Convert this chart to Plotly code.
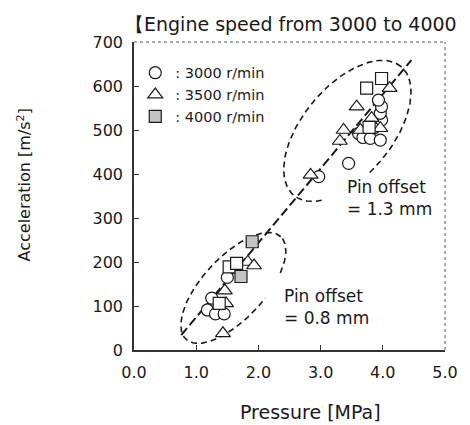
import numpy as np
import plotly.graph_objects as go

# ---- data ----
rpm3000_p = [1.18, 1.25, 1.31, 1.45, 1.50, 2.97, 3.45, 3.61, 3.68, 3.80, 3.96, 3.86, 3.98, 3.96, 3.98, 3.93]
rpm3000_a = [91, 118, 82, 82, 165, 394, 424, 492, 483, 481, 477, 505, 523, 538, 553, 568]

rpm3500_p = [1.43, 1.48, 1.46, 1.83, 1.93, 2.84, 3.31, 3.37, 3.58, 3.64, 3.82, 3.96, 4.11]
rpm3500_a = [38, 106, 135, 200, 192, 398, 475, 500, 553, 500, 527, 504, 595]

rpm4000_p = [1.37, 1.53, 1.65, 3.74, 3.98, 3.78]
rpm4000_a = [106, 189, 197, 595, 617, 506]

rpm4000_shaded_p = [1.72, 1.90]
rpm4000_shaded_a = [167, 246]

fit_p = [0.76, 4.46]
fit_a = [34, 659]

x_ticks = [0, 1, 2, 3, 4, 5]
y_ticks = [0, 100, 200, 300, 400, 500, 600, 700]

legend_labels = [":\u00a03000 r/min", ":\u00a03500 r/min", ":\u00a04000 r/min"]
title_text = "\u3010Engine speed from 3000 to 4000"
x_title = "Pressure [MPa]"
y_title = "Acceleration [m/s<sup>2</sup>]"

FONT = "DejaVu Sans"
INK = "#1a1a1a"

W, H = 470, 425
ML, MR, MT, MB = 134, 23, 42, 75
KX = (W - ML - MR) / 5.0      # px per MPa
KY = (H - MT - MB) / 700.0    # px per m/s^2


def ellipse(cx, cy, a_px, b_px, theta_deg, gap):
    """dashed ellipse path in data units with an opening between gap angles (deg)"""
    th = np.radians(theta_deg)
    t = np.radians(np.arange(0, 361, 2))
    xs = a_px * np.cos(t) * np.cos(th) - b_px * np.sin(t) * np.sin(th)
    ys = a_px * np.cos(t) * np.sin(th) + b_px * np.sin(t) * np.cos(th)
    xd = cx + xs / KX
    yd = cy + ys / KY
    deg = np.degrees(t)
    mask = (deg > gap[0]) & (deg < gap[1])
    xd = [None if m else v for v, m in zip(xd, mask)]
    yd = [None if m else v for v, m in zip(yd, mask)]
    return xd, yd


fig = go.Figure()

# ellipses
for cx, cy, a, b, th, gap in [(1.597, 141, 70, 31, 47, (282, 307)),
                              (3.43, 498, 84, 45, 50, (216, 258))]:
    ex, ey = ellipse(cx, cy, a, b, th, gap)
    fig.add_trace(go.Scatter(x=ex, y=ey, mode="lines", showlegend=False,
                             line=dict(color=INK, width=1.6, dash="6px,4px"),
                             hoverinfo="skip"))

# regression line
fig.add_trace(go.Scatter(x=fit_p, y=fit_a, mode="lines", showlegend=False,
                         line=dict(color=INK, width=2, dash="9px,4px")))

mk_line = dict(color=INK, width=1.2)
fig.add_trace(go.Scatter(x=rpm3000_p, y=rpm3000_a, mode="markers", name=legend_labels[0],
                         marker=dict(symbol="circle", size=12, color="white", line=mk_line)))
fig.add_trace(go.Scatter(x=rpm3500_p, y=rpm3500_a, mode="markers", name=legend_labels[1],
                         marker=dict(symbol="triangle-up", size=13, color="white", line=mk_line)))
fig.add_trace(go.Scatter(x=rpm4000_p, y=rpm4000_a, mode="markers", showlegend=False,
                         marker=dict(symbol="square", size=12, color="white", line=mk_line)))
fig.add_trace(go.Scatter(x=rpm4000_shaded_p, y=rpm4000_shaded_a, mode="markers", name=legend_labels[2],
                         marker=dict(symbol="square", size=12, color="#c4c4c4", line=mk_line)))

axis_common = dict(showgrid=False, zeroline=False, showline=True, linecolor="#333333",
                   linewidth=1.5, ticks="inside", ticklen=5, tickwidth=1, tickcolor="#333333",
                   tickfont=dict(family=FONT, size=16, color=INK), mirror=False)
fig.update_xaxes(range=[0, 5], tickvals=x_ticks, tickformat=".1f", ticklabelstandoff=7, **axis_common)
fig.update_yaxes(range=[0, 700], tickvals=y_ticks, ticklabelstandoff=6, **axis_common)

# dotted top and right frame
fig.add_shape(type="line", xref="paper", yref="paper", x0=0, x1=1, y0=1, y1=1,
              line=dict(color="#555555", width=1, dash="dot"))
fig.add_shape(type="line", xref="paper", yref="paper", x0=1, x1=1, y0=0, y1=1,
              line=dict(color="#555555", width=1, dash="dot"))

ann = []
ann.append(dict(text=title_text, xref="paper", yref="paper", x=-0.035, y=1.057,
                xanchor="left", yanchor="middle", showarrow=False,
                font=dict(family=FONT, size=19, color=INK)))
ann.append(dict(text=x_title, xref="paper", yref="paper", x=0.566, y=-0.2,
                xanchor="center", yanchor="middle", showarrow=False,
                font=dict(family=FONT, size=19, color=INK)))
ann.append(dict(text=y_title, xref="paper", yref="paper", x=-0.352, y=0.536,
                xanchor="center", yanchor="middle", showarrow=False, textangle=-90,
                font=dict(family=FONT, size=16, color=INK)))
for txt, xx, yy in [("Pin offset<br>= 1.3 mm", 3.40, 345),
                    ("Pin offset<br>= 0.8 mm", 2.38, 98)]:
    ann.append(dict(text=txt, x=xx, y=yy, xanchor="left", yanchor="middle", align="left",
                    showarrow=False, font=dict(family=FONT, size=17, color=INK)))

fig.update_layout(
    width=W, height=H,
    margin=dict(l=ML, r=MR, t=MT, b=MB),
    paper_bgcolor="white", plot_bgcolor="white",
    annotations=ann,
    showlegend=True,
    legend=dict(x=0.004, y=0.952, xanchor="left", yanchor="top",
                bgcolor="rgba(0,0,0,0)", font=dict(family=FONT, size=14.5, color=INK),
                tracegroupgap=0, itemwidth=30),
)

fig.write_html("out.html", config={"displayModeBar": False},
               post_script="document.body.style.margin='0';document.body.style.padding='0';")
